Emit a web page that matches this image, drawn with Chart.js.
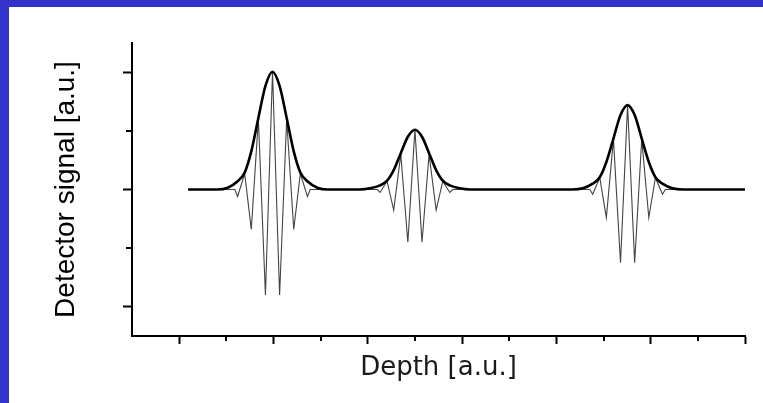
<!DOCTYPE html>
<html>
<head>
<meta charset="utf-8">
<script src="https://cdn.jsdelivr.net/npm/chart.js@4"></script>
<style>
  html, body { margin: 0; padding: 0; background: #3333cc; }
  #wrap { position: absolute; left: 9px; top: 7px; width: 754px; height: 396px; background: #fff; }
</style>
</head>
<body>
<div id="wrap"><canvas id="chart" width="754" height="396"></canvas></div>
<script>
// Envelope (thick black curve)
const envelopeDepth = [1.19, 1.81, 2.03, 2.24, 2.39, 2.53, 2.68, 2.83, 2.98, 3.13, 3.28, 3.43, 3.57, 3.72, 3.93, 4.15,
  4.83, 5.05, 5.26, 5.41, 5.55, 5.70, 5.85, 6.00, 6.15, 6.30, 6.45, 6.59, 6.74, 6.95, 7.17,
  9.34, 9.56, 9.77, 9.92, 10.06, 10.21, 10.36, 10.51, 10.66, 10.81, 10.96, 11.10, 11.25, 11.46, 11.68, 13];
const envelopeSignal = [0, 0, 0.03, 0.14, 0.29, 0.65, 1.22, 1.77, 2.01, 1.77, 1.22, 0.65, 0.29, 0.14, 0.03, 0,
  0, 0.02, 0.07, 0.15, 0.33, 0.62, 0.90, 1.02, 0.90, 0.62, 0.33, 0.15, 0.07, 0.02, 0,
  0, 0.02, 0.10, 0.21, 0.47, 0.87, 1.27, 1.44, 1.27, 0.87, 0.47, 0.21, 0.10, 0.02, 0, 0];

// Interference fringes (thin grey zigzag), turning points only
const fringeDepth = [1.19, 2.18, 2.24, 2.39, 2.53, 2.68, 2.83, 2.98, 3.13, 3.28, 3.43, 3.57, 3.72, 3.78,
  5.20, 5.26, 5.41, 5.55, 5.70, 5.85, 6.00, 6.15, 6.30, 6.45, 6.59, 6.74, 6.80,
  9.71, 9.77, 9.92, 10.06, 10.21, 10.36, 10.51, 10.66, 10.81, 10.96, 11.10, 11.25, 11.31, 13];
const fringeSignal = [0, 0, -0.12, 0.27, -0.68, 1.20, -1.80, 2.01, -1.80, 1.20, -0.68, 0.27, -0.12, 0,
  0, -0.05, 0.14, -0.35, 0.60, -0.90, 1.02, -0.90, 0.60, -0.35, 0.14, -0.05, 0,
  0, -0.08, 0.20, -0.48, 0.86, -1.25, 1.44, -1.25, 0.86, -0.48, 0.20, -0.08, 0, 0];

const xTicks = [0, 1, 2, 3, 4, 5, 6, 7, 8, 9, 10, 11, 12, 13];
const yTicks = [-2, -1, 0, 1, 2];

const toPoints = (xs, ys) => xs.map((x, i) => ({ x, y: ys[i] }));

// short (minor) tick marks, placed with the scales
const minorTicks = {
  id: 'minorTicks',
  afterDraw(chart) {
    const { ctx, chartArea, scales } = chart;
    ctx.save();
    ctx.strokeStyle = '#000';
    ctx.lineWidth = 2;
    xTicks.filter(v => v % 2 === 0 && v > 0).forEach(v => {
      const px = Math.round(scales.x.getPixelForValue(v));
      ctx.beginPath();
      ctx.moveTo(px, chartArea.bottom);
      ctx.lineTo(px, chartArea.bottom + 5);
      ctx.stroke();
    });
    yTicks.filter(v => Math.abs(v) === 1).forEach(v => {
      const py = Math.round(scales.y.getPixelForValue(v));
      ctx.beginPath();
      ctx.moveTo(chartArea.left, py);
      ctx.lineTo(chartArea.left - 6, py);
      ctx.stroke();
    });
    ctx.restore();
  },
};

new Chart(document.getElementById('chart'), {
  type: 'line',
  data: {
    datasets: [
      {
        label: 'Envelope',
        data: toPoints(envelopeDepth, envelopeSignal),
        borderColor: '#000',
        borderWidth: 2.6,
        cubicInterpolationMode: 'monotone',
        pointRadius: 0,
        fill: false,
      },
      {
        label: 'Signal',
        data: toPoints(fringeDepth, fringeSignal),
        borderColor: '#444',
        borderWidth: 1.1,
        tension: 0,
        pointRadius: 0,
        fill: false,
      },
    ],
  },
  options: {
    responsive: false,
    animation: false,
    layout: { padding: { left: 0, top: 36, right: 18, bottom: 0 } },
    plugins: { legend: { display: false }, tooltip: { enabled: false } },
    scales: {
      x: {
        type: 'linear',
        min: 0, max: 13,
        afterBuildTicks: (s) => { s.ticks = xTicks.map(v => ({ value: v })); },
        afterFit: (s) => { s.height = 67; },
        border: { display: true, color: '#000', width: 2 },
        grid: {
          drawOnChartArea: false,
          tickLength: 8,
          tickWidth: 2,
          tickColor: (c) => (c.tick && c.tick.value % 2 === 1 ? '#000' : 'rgba(0,0,0,0)'),
        },
        ticks: { display: false },
        title: {
          display: true,
          text: 'Depth [a.u.]',
          color: '#1a1a1a',
          font: { family: "'DejaVu Sans', sans-serif", size: 26 },
          padding: { top: 0, bottom: 19 },
        },
      },
      y: {
        type: 'linear',
        min: -2.5, max: 2.5,
        afterBuildTicks: (s) => { s.ticks = yTicks.map(v => ({ value: v })); },
        afterFit: (s) => { s.width = 123; },
        border: { display: true, color: '#000', width: 2 },
        grid: {
          drawOnChartArea: false,
          tickLength: 9,
          tickWidth: 2,
          tickColor: (c) => (c.tick && c.tick.value % 2 === 0 ? '#000' : 'rgba(0,0,0,0)'),
        },
        ticks: { display: false },
        title: {
          display: true,
          text: 'Detector signal [a.u.]',
          color: '#000',
          font: { family: "'Liberation Sans', Arial, sans-serif", size: 28 },
          padding: { top: 40, bottom: 0 },
        },
      },
    },
  },
  plugins: [minorTicks],
});
</script>
</body>
</html>
